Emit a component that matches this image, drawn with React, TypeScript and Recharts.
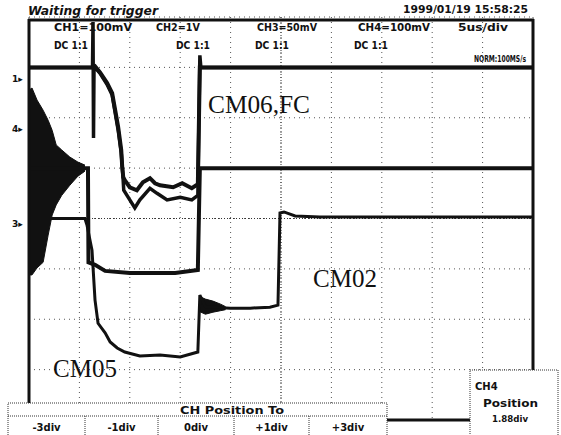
import React from "react";
import { ComposedChart, Line, Area, XAxis, YAxis, CartesianGrid, ReferenceLine } from "recharts";

// graticule: 10 x 8 divisions (5us/div)
const xDivs = [0, 1, 2, 3, 4, 5, 6, 7, 8, 9, 10];
const yDivs = [0, 1, 2, 3, 4, 5, 6, 7];

// traces, [time div, level div]
const ch1Upper = [
  [0, 7.0], [1.27, 7.0], [1.31, 7.02], [1.41, 6.9], [1.55, 6.69], [1.65, 6.49], [1.71, 6.15],
  [1.77, 5.81], [1.83, 5.36], [1.85, 5.02], [1.87, 4.82], [1.9, 4.76], [2.0, 4.62], [2.14, 4.56],
  [2.26, 4.72], [2.4, 4.8], [2.5, 4.7], [2.6, 4.66], [2.86, 4.62], [3.04, 4.7], [3.23, 4.6],
  [3.35, 4.68], [3.39, 7.0], [10, 7.0],
];

const ch2Lower = [
  [0, 7.0], [1.26, 7.0], [1.27, 7.9], [1.28, 5.6], [1.29, 7.0], [1.31, 7.0], [1.41, 6.88],
  [1.55, 6.66], [1.65, 6.45], [1.71, 6.1], [1.77, 5.75], [1.83, 5.3], [1.86, 4.9], [1.88, 4.56],
  [2.0, 4.37], [2.1, 4.21], [2.2, 4.37], [2.4, 4.6], [2.54, 4.5], [2.74, 4.37], [3.0, 4.42],
  [3.23, 4.37], [3.35, 4.46], [3.39, 7.24], [3.41, 7.0], [10, 7.0],
];

const ch4Trace = [
  [0, 5.0], [1.17, 5.0], [1.18, 3.13], [1.31, 3.08], [1.51, 2.96], [2.0, 2.92], [2.9, 2.92],
  [3.35, 2.98], [3.39, 5.0], [10, 5.0],
];

const ch3Trace = [
  [0, 4.0], [1.11, 4.0], [1.15, 3.87], [1.25, 3.37], [1.31, 2.38], [1.37, 1.92], [1.51, 1.73],
  [1.61, 1.55], [1.75, 1.43], [1.9, 1.35], [2.2, 1.27], [2.6, 1.29], [3.0, 1.25], [3.35, 1.35],
  [3.39, 2.48], [3.5, 2.25], [3.99, 2.22], [4.39, 2.22], [4.78, 2.24], [4.94, 2.28], [4.98, 4.11],
  [5.06, 4.13], [5.28, 4.05], [5.77, 4.03], [10, 4.03],
];

// ringing at start of sweep [x, low, high]
const ringing = [
  [0, 2.88, 6.55], [0.06, 2.88, 6.59], [0.16, 3.02, 6.35], [0.28, 3.13, 6.15], [0.38, 3.67, 5.95],
  [0.46, 4.07, 5.75], [0.54, 4.27, 5.46], [0.65, 4.46, 5.36], [0.81, 4.66, 5.22], [0.97, 4.84, 5.12],
  [1.11, 4.94, 5.06],
];

const settleNoise = [
  [3.39, 2.15, 2.45], [3.5, 2.1, 2.4], [3.65, 2.14, 2.36], [3.8, 2.17, 2.3], [3.9, 2.19, 2.25],
];

const chLabels = ["CH1=100mV", "CH2=1V", "CH3=50mV", "CH4=100mV"];
const couplings = ["DC 1:1", "DC 1:1", "DC 1:1", "DC 1:1"];
const menuButtons = ["-3div", "-1div", "0div", "+1div", "+3div"];
const groundMarks = ["1", "4", "3"];

const pts = (a: number[][]) => a.map(([x, y]) => ({ x, y }));
const band = (a: number[][]) => a.map(([x, lo, hi]) => ({ x, range: [lo, hi] }));

const small = { fontFamily: "DejaVu Sans", fontWeight: 700, fontSize: 10, fill: "#111" } as const;
const serif = { fontFamily: "Liberation Serif", fontSize: 25, fill: "#111" } as const;

export default function App() {
  const chX = [54, 156, 257, 358];
  const chW = [78, 44, 60, 72];
  const dcX = [54, 176, 255, 354];
  const markY = [82, 132, 227];
  const cells = [8, 85, 158, 234, 309, 387];

  return (
    <div style={{ position: "absolute", left: 0, top: 0, width: 561, height: 435, background: "#fff", overflow: "hidden" }}>
      <ComposedChart width={561} height={435} margin={{ top: 17, right: 28, bottom: 15, left: 29 }}>
        <XAxis type="number" dataKey="x" domain={[0, 10]} ticks={xDivs} hide allowDataOverflow />
        <YAxis type="number" domain={[0, 8]} ticks={yDivs} hide allowDataOverflow />
        <CartesianGrid stroke="#555" strokeDasharray="1 4" />
        <ReferenceLine x={5} stroke="#333" strokeDasharray="1 2" />
        <ReferenceLine y={4} stroke="#333" strokeDasharray="1 2" />
        <Area data={band(ringing)} dataKey="range" type="linear" fill="#111" fillOpacity={1} stroke="#111" isAnimationActive={false} />
        <Area data={band(settleNoise)} dataKey="range" type="linear" fill="#111" fillOpacity={1} stroke="#111" isAnimationActive={false} />
        <Line data={pts(ch3Trace)} dataKey="y" type="linear" stroke="#111" strokeWidth={3} dot={false} isAnimationActive={false} />
        <Line data={pts(ch4Trace)} dataKey="y" type="linear" stroke="#111" strokeWidth={4} dot={false} isAnimationActive={false} />
        <Line data={pts(ch2Lower)} dataKey="y" type="linear" stroke="#111" strokeWidth={3.5} dot={false} isAnimationActive={false} />
        <Line data={pts(ch1Upper)} dataKey="y" type="linear" stroke="#111" strokeWidth={4} dot={false} isAnimationActive={false} />
      </ComposedChart>

      <svg width={561} height={435} style={{ position: "absolute", left: 0, top: 0, pointerEvents: "none" }}>
        {/* frame */}
        <line x1={28} y1={20} x2={534} y2={20} stroke="#111" strokeWidth={3} />
        <line x1={29} y1={19} x2={29} y2={403} stroke="#111" strokeWidth={3} />
        <line x1={533} y1={19} x2={533} y2={370} stroke="#111" strokeWidth={3} />
        <line x1={387} y1={420} x2={470} y2={420} stroke="#111" strokeWidth={3} />

        <text x={28} y={15} {...small} fontSize={12} fontStyle="italic" textLength={130} lengthAdjust="spacingAndGlyphs">Waiting for trigger</text>
        <text x={403} y={13} {...small} textLength={125} lengthAdjust="spacingAndGlyphs">1999/01/19 15:58:25</text>
        {chLabels.map((t, i) => (
          <text key={t + i} x={chX[i]} y={31} {...small} textLength={chW[i]} lengthAdjust="spacingAndGlyphs">{t}</text>
        ))}
        <text x={458} y={31} {...small} textLength={50} lengthAdjust="spacingAndGlyphs">5us/div</text>
        {couplings.map((t, i) => (
          <text key={"dc" + i} x={dcX[i]} y={49} {...small} textLength={34} lengthAdjust="spacingAndGlyphs">{t}</text>
        ))}
        <text x={474} y={62} {...small} fontSize={9} textLength={52} lengthAdjust="spacingAndGlyphs">NORM:100MS/s</text>

        {groundMarks.map((t, i) => (
          <text key={"g" + i} x={12} y={markY[i]} {...small} fontSize={9}>{t}▸</text>
        ))}

        <text x={208} y={113} {...serif} textLength={102} lengthAdjust="spacingAndGlyphs">CM06,FC</text>
        <text x={313} y={287} {...serif} textLength={64} lengthAdjust="spacingAndGlyphs">CM02</text>
        <text x={53} y={377} {...serif} textLength={64} lengthAdjust="spacingAndGlyphs">CM05</text>

        {/* soft-key menu */}
        <rect x={8} y={403} width={379} height={40} fill="#fff" stroke="#333" strokeDasharray="1 1" />
        <line x1={8} y1={416} x2={387} y2={416} stroke="#333" strokeDasharray="1 1" />
        <text x={180} y={414} {...small} textLength={104} lengthAdjust="spacingAndGlyphs">CH Position To</text>
        {menuButtons.map((t, i) => (
          <g key={t}>
            {i > 0 && <line x1={cells[i]} y1={416} x2={cells[i]} y2={435} stroke="#333" strokeDasharray="1 1" />}
            <text x={(cells[i] + cells[i + 1]) / 2} y={431} {...small} textAnchor="middle">{t}</text>
          </g>
        ))}

        <rect x={470} y={370} width={88} height={70} fill="#fff" stroke="#333" strokeDasharray="1 1" />
        <text x={475} y={390} {...small}>CH4</text>
        <text x={483} y={407} {...small} textLength={55} lengthAdjust="spacingAndGlyphs">Position</text>
        <text x={492} y={422} {...small} fontSize={9} textLength={36} lengthAdjust="spacingAndGlyphs">1.88div</text>
      </svg>
    </div>
  );
}
